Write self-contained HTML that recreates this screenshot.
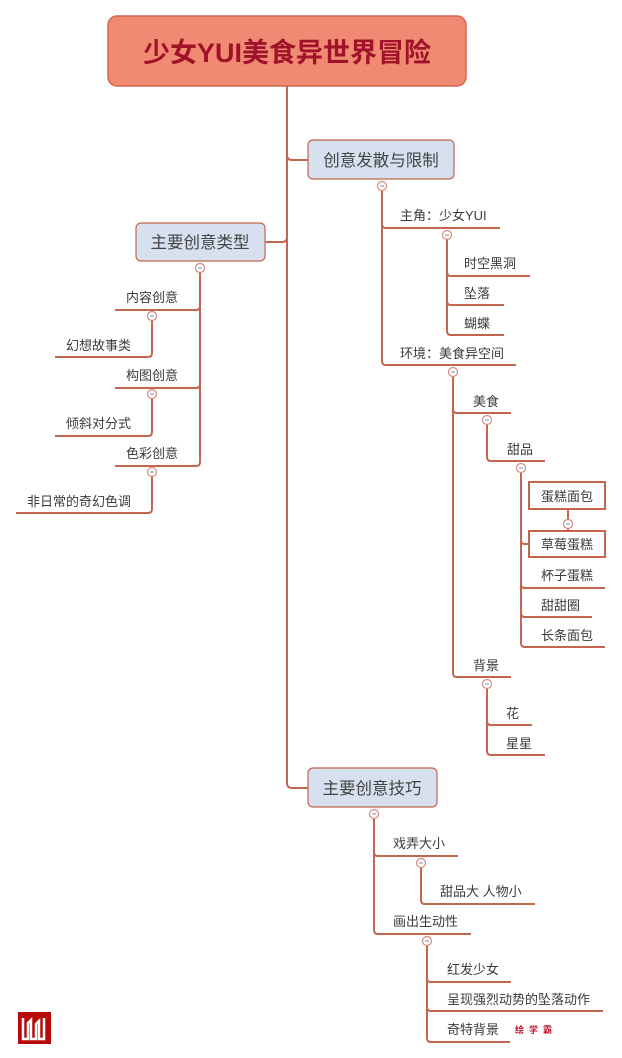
<!DOCTYPE html>
<html><head><meta charset="utf-8"><style>
html,body{margin:0;padding:0;background:#fff;}
svg{display:block;}
text{font-family:"Liberation Sans","Noto Sans CJK SC",sans-serif;fill:#3a3a3a;font-size:13px;}
.b{font-size:16.5px;fill:#444;}
</style></head><body>
<svg width="622" height="1058" viewBox="0 0 622 1058" xmlns="http://www.w3.org/2000/svg">
<g fill="none" stroke="#c4654d" stroke-width="2">
<path d="M287 86 V783 Q287 788 292 788 H309"/>
<path d="M287 155 Q287 160 292 160 H309"/>
<path d="M287 237 Q287 242 282 242 H265"/>
<path d="M200 268 V306 Q200 310 196 310 H115"/>
<path d="M200 268 V384 Q200 388 196 388 H115"/>
<path d="M200 268 V462 Q200 466 196 466 H115"/>
<path d="M152 316 V353 Q152 357 148 357 H55"/>
<path d="M152 394 V432 Q152 436 148 436 H55"/>
<path d="M152 472 V509 Q152 513 148 513 H16"/>
<path d="M382 186 V224 Q382 228 386 228 H500"/>
<path d="M382 186 V361 Q382 365 386 365 H516"/>
<path d="M447 235 V272 Q447 276 451 276 H530"/>
<path d="M447 235 V301 Q447 305 451 305 H504"/>
<path d="M447 235 V331 Q447 335 451 335 H504"/>
<path d="M453 372 V409 Q453 413 457 413 H511"/>
<path d="M453 372 V673 Q453 677 457 677 H511"/>
<path d="M487 420 V457 Q487 461 491 461 H545"/>
<path d="M521 468 V540 Q521 544 525 544 H529"/>
<path d="M521 468 V584 Q521 588 525 588 H605"/>
<path d="M521 468 V613 Q521 617 525 617 H592"/>
<path d="M521 468 V643 Q521 647 525 647 H605"/>
<path d="M568 509 V531"/>
<path d="M487 684 V721 Q487 725 491 725 H532"/>
<path d="M487 684 V751 Q487 755 491 755 H545"/>
<path d="M374 814 V852 Q374 856 378 856 H458"/>
<path d="M374 814 V930 Q374 934 378 934 H471"/>
<path d="M421 863 V900 Q421 904 425 904 H535"/>
<path d="M427 941 V978 Q427 982 431 982 H511"/>
<path d="M427 941 V1007 Q427 1011 431 1011 H603"/>
<path d="M427 941 V1038 Q427 1042 431 1042 H510"/>
</g>
<rect x="108" y="16" width="358" height="70" rx="9" fill="#f08a72" stroke="#d26650" stroke-width="1.5"/>
<text x="287" y="62" text-anchor="middle" style="font-size:27px;font-weight:bold;fill:#a0122a">少女YUI美食异世界冒险</text>
<rect x="308" y="140" width="146" height="39" rx="5" fill="#d6e0ee" stroke="#c4654d" stroke-width="1.2"/>
<text class="b" x="381" y="166" text-anchor="middle">创意发散与限制</text>
<rect x="136" y="223" width="129" height="38" rx="5" fill="#d6e0ee" stroke="#c4654d" stroke-width="1.2"/>
<text class="b" x="200" y="248" text-anchor="middle">主要创意类型</text>
<rect x="308" y="768" width="129" height="39" rx="5" fill="#d6e0ee" stroke="#c4654d" stroke-width="1.2"/>
<text class="b" x="372" y="794" text-anchor="middle">主要创意技巧</text>
<rect x="529" y="482" width="76" height="27" fill="#fff" stroke="#c4654d" stroke-width="2"/>
<rect x="529" y="531" width="76" height="26" fill="#fff" stroke="#c4654d" stroke-width="2"/>
<g fill="#fff" stroke="#d98a78" stroke-width="1.2">
<circle cx="382" cy="186" r="4.5"/><circle cx="200" cy="268" r="4.5"/>
<circle cx="152" cy="316" r="4.5"/><circle cx="152" cy="394" r="4.5"/><circle cx="152" cy="472" r="4.5"/>
<circle cx="447" cy="235" r="4.5"/><circle cx="453" cy="372" r="4.5"/><circle cx="487" cy="420" r="4.5"/>
<circle cx="521" cy="468" r="4.5"/><circle cx="568" cy="524" r="4.5"/><circle cx="487" cy="684" r="4.5"/>
<circle cx="374" cy="814" r="4.5"/><circle cx="421" cy="863" r="4.5"/><circle cx="427" cy="941" r="4.5"/>
</g>
<g stroke="#7a86b0" stroke-width="1">
<path d="M380 186h4M198 268h4M150 316h4M150 394h4M150 472h4M445 235h4M451 372h4M485 420h4M519 468h4M566 524h4M485 684h4M372 814h4M419 863h4M425 941h4"/>
</g>
<text x="126" y="302">内容创意</text>
<text x="66" y="350">幻想故事类</text>
<text x="126" y="380">构图创意</text>
<text x="66" y="428">倾斜对分式</text>
<text x="126" y="458">色彩创意</text>
<text x="27" y="506">非日常的奇幻色调</text>
<text x="400" y="220">主角：少女YUI</text>
<text x="464" y="268">时空黑洞</text>
<text x="464" y="298">坠落</text>
<text x="464" y="328">蝴蝶</text>
<text x="400" y="358">环境：美食异空间</text>
<text x="473" y="406">美食</text>
<text x="507" y="454">甜品</text>
<text x="541" y="501">蛋糕面包</text>
<text x="541" y="549">草莓蛋糕</text>
<text x="541" y="580">杯子蛋糕</text>
<text x="541" y="610">甜甜圈</text>
<text x="541" y="640">长条面包</text>
<text x="473" y="670">背景</text>
<text x="506" y="718">花</text>
<text x="506" y="748">星星</text>
<text x="393" y="848">戏弄大小</text>
<text x="440" y="896">甜品大 人物小</text>
<text x="393" y="926">画出生动性</text>
<text x="447" y="974">红发少女</text>
<text x="447" y="1004">呈现强烈动势的坠落动作</text>
<text x="447" y="1034">奇特背景</text>
<text x="515" y="1033" style="font-size:9px;font-weight:bold;fill:#c0102a;letter-spacing:5px">绘学霸</text>
<rect x="18" y="1012" width="33" height="32" fill="#b80a0a"/>
<path d="M23 1018 v21 h5 v-16 l3 -3 v19 h5 v-15 l3 -3 v18 h5 v-21" fill="none" stroke="#fff" stroke-width="2.5"/>
</svg>
</body></html>
